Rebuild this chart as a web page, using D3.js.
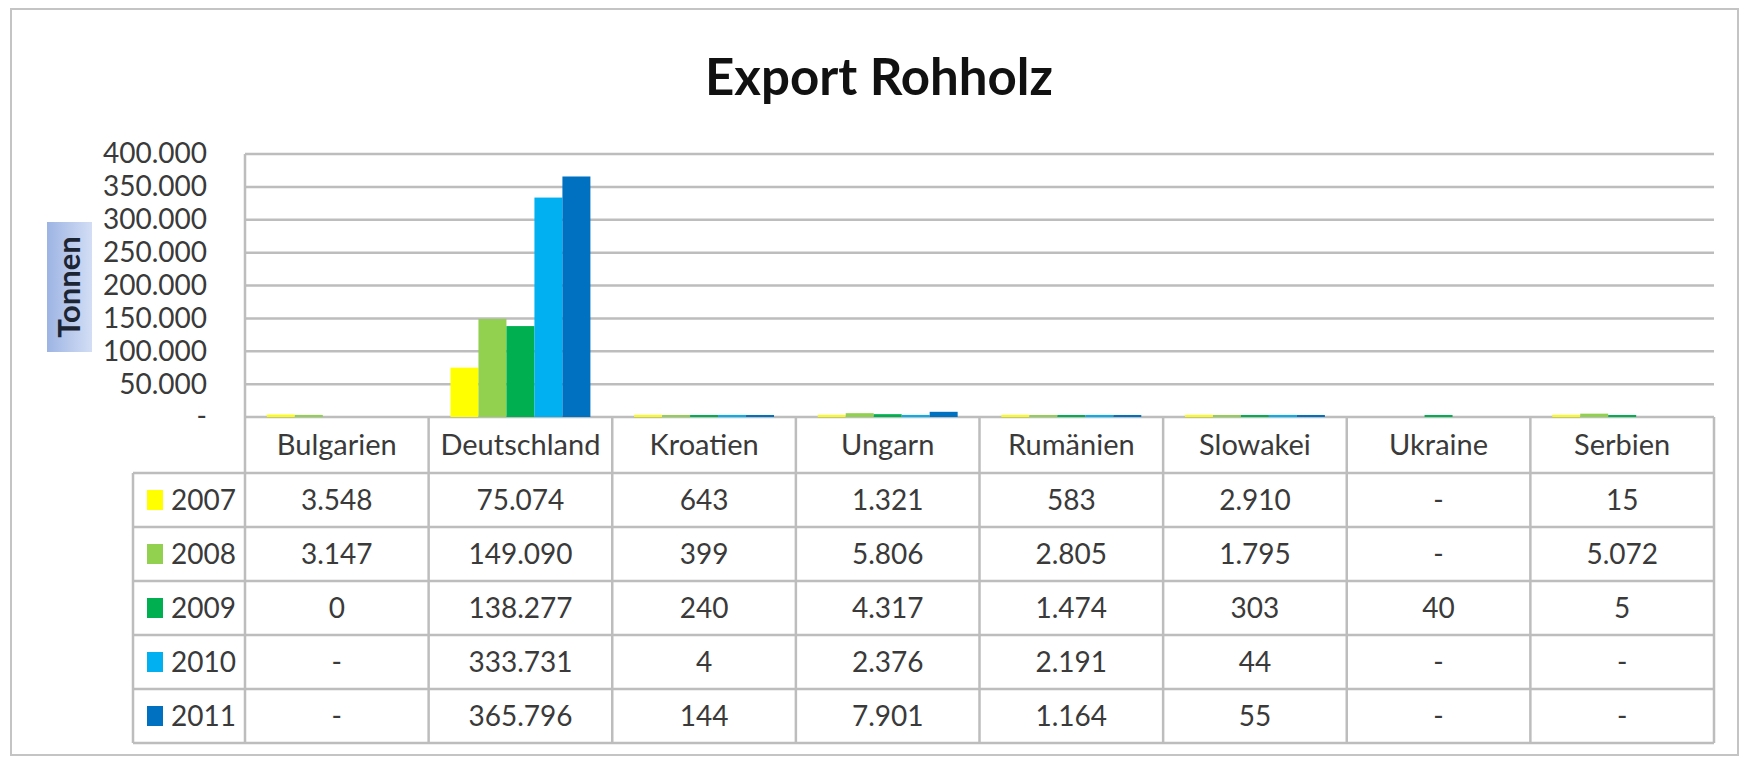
<!DOCTYPE html>
<html>
<head>
<meta charset="utf-8">
<script src="https://cdnjs.cloudflare.com/ajax/libs/d3/7.8.5/d3.min.js"></script>
<style>
  body { margin: 0; background: #fff; }
  text { font-family: Lato, "Open Sans", sans-serif; }
</style>
</head>
<body>
<div id="chart"></div>
<script>
// chart data (Tonnen), null = "-" in the table
const countries = ["Bulgarien", "Deutschland", "Kroatien", "Ungarn", "Rumänien", "Slowakei", "Ukraine", "Serbien"];
const years = ["2007", "2008", "2009", "2010", "2011"];
const values2007 = [3548, 75074, 643, 1321, 583, 2910, null, 15];
const values2008 = [3147, 149090, 399, 5806, 2805, 1795, null, 5072];
const values2009 = [0, 138277, 240, 4317, 1474, 303, 40, 5];
const values2010 = [null, 333731, 4, 2376, 2191, 44, null, null];
const values2011 = [null, 365796, 144, 7901, 1164, 55, null, null];
const yTicks = [0, 50000, 100000, 150000, 200000, 250000, 300000, 350000, 400000];
const colors = ["#ffff00", "#92d050", "#00b050", "#00b0f0", "#0070c0"];

const series = [values2007, values2008, values2009, values2010, values2011];

const width = 1745;
const height = 758;

// plot area and table geometry
const plotLeft = 245, plotRight = 1714, plotTop = 154, plotBottom = 417;
const tableLeft = 133;
const headerH = 56;
const rowH = 54;
const gridColor = "#bdbdbd";
const textColor = "#3a3a3a";
const fontSize = 28;

const de = d3.formatLocale({ decimal: ",", thousands: ".", grouping: [3], currency: ["", " €"] });
const fmt = de.format(",.0f");
const cellText = v => v == null ? "-" : fmt(v);

const svg = d3.select("#chart")
  .append("svg")
  .attr("width", width)
  .attr("height", height);

// outer frame
svg.append("rect")
  .attr("x", 11)
  .attr("y", 9)
  .attr("width", 1727)
  .attr("height", 746)
  .attr("fill", "#fff")
  .attr("stroke", "#c4c4c4")
  .attr("stroke-width", 2);

// title
svg.append("text")
  .attr("x", 879)
  .attr("y", 95)
  .attr("text-anchor", "middle")
  .attr("font-size", 51)
  .attr("font-weight", "bold")
  .attr("fill", "#111")
  .text("Export Rohholz");

// scales
const x0 = d3.scaleBand()
  .domain(countries)
  .range([plotLeft, plotRight])
  .padding(0);

const bw = x0.bandwidth();
const x1 = d3.scaleBand()
  .domain(years)
  .range([bw * 0.119, bw * 0.881])
  .padding(0);

const y = d3.scaleLinear()
  .domain([0, 400000])
  .range([plotBottom, plotTop]);

// gridlines
svg.append("g")
  .selectAll("line")
  .data(yTicks)
  .join("line")
  .attr("x1", plotLeft)
  .attr("x2", plotRight)
  .attr("y1", d => y(d))
  .attr("y2", d => y(d))
  .attr("stroke", gridColor)
  .attr("stroke-width", 2.5);

// y axis labels
const yAxis = d3.axisLeft(y)
  .tickValues(yTicks)
  .tickSize(0)
  .tickPadding(38)
  .tickFormat(d => d === 0 ? "-" : fmt(d));

svg.append("g")
  .attr("transform", `translate(${plotLeft}, 0)`)
  .call(yAxis)
  .call(g => g.select(".domain").remove())
  .call(g => g.selectAll("text")
    .attr("font-family", "Lato, sans-serif")
    .attr("font-size", fontSize)
    .attr("fill", textColor));

// Tonnen label box
const grad = svg.append("defs")
  .append("linearGradient")
  .attr("id", "tonnenGrad")
  .attr("x1", "0%").attr("x2", "100%")
  .attr("y1", "0%").attr("y2", "0%");
grad.append("stop").attr("offset", "0%").attr("stop-color", "#9db4e3");
grad.append("stop").attr("offset", "100%").attr("stop-color", "#d3def5");

svg.append("rect")
  .attr("x", 47)
  .attr("y", 222)
  .attr("width", 45)
  .attr("height", 130)
  .attr("fill", "url(#tonnenGrad)");

svg.append("text")
  .attr("transform", "translate(80, 287) rotate(-90)")
  .attr("text-anchor", "middle")
  .attr("font-size", 31)
  .attr("font-weight", "bold")
  .attr("fill", "#1c2533")
  .text("Tonnen");

// bars
const barData = [];
series.forEach((vals, s) => {
  vals.forEach((v, c) => {
    if (v != null && v > 0) barData.push({ country: countries[c], year: years[s], value: v, color: colors[s] });
  });
});

svg.append("g")
  .selectAll("rect")
  .data(barData)
  .join("rect")
  .attr("x", d => x0(d.country) + x1(d.year))
  .attr("width", x1.bandwidth())
  .attr("y", d => Math.min(y(d.value), plotBottom - 2))
  .attr("height", d => Math.max(plotBottom - y(d.value), 2))
  .attr("fill", d => d.color);

// data table
const tableTop = plotBottom;
const rowTop = i => tableTop + headerH + i * rowH;
const tableBottom = rowTop(years.length);

const table = svg.append("g");

// horizontal lines
table.selectAll("line.h")
  .data(d3.range(years.length + 1))
  .join("line")
  .attr("class", "h")
  .attr("x1", tableLeft)
  .attr("x2", plotRight)
  .attr("y1", i => rowTop(i))
  .attr("y2", i => rowTop(i))
  .attr("stroke", gridColor)
  .attr("stroke-width", 2.5);

// vertical lines
const colEdges = countries.map(c => x0(c)).concat([plotRight]);
table.selectAll("line.v")
  .data(colEdges)
  .join("line")
  .attr("class", "v")
  .attr("x1", d => d)
  .attr("x2", d => d)
  .attr("y1", (d, i) => i === 0 ? plotTop : tableTop)
  .attr("y2", tableBottom)
  .attr("stroke", gridColor)
  .attr("stroke-width", 2.5);

table.append("line")
  .attr("x1", tableLeft)
  .attr("x2", tableLeft)
  .attr("y1", rowTop(0))
  .attr("y2", tableBottom)
  .attr("stroke", gridColor)
  .attr("stroke-width", 2.5);

// column headers
table.selectAll("text.head")
  .data(countries)
  .join("text")
  .attr("class", "head")
  .attr("x", d => x0(d) + bw / 2)
  .attr("y", tableTop + headerH / 2)
  .attr("dy", "0.35em")
  .attr("text-anchor", "middle")
  .attr("font-size", 29)
  .attr("fill", textColor)
  .text(d => d);

// legend keys + year labels
years.forEach((yr, s) => {
  const cy = rowTop(s) + rowH / 2;
  table.append("rect")
    .attr("x", 147)
    .attr("y", cy - 10)
    .attr("width", 16)
    .attr("height", 20)
    .attr("fill", colors[s]);
  table.append("text")
    .attr("x", 171)
    .attr("y", cy)
    .attr("dy", "0.35em")
    .attr("font-size", fontSize)
    .attr("fill", textColor)
    .text(yr);

  // cell values
  table.selectAll(null)
    .data(series[s])
    .join("text")
    .attr("x", (d, c) => x0(countries[c]) + bw / 2)
    .attr("y", cy)
    .attr("dy", "0.35em")
    .attr("text-anchor", "middle")
    .attr("font-size", fontSize)
    .attr("fill", textColor)
    .text(d => cellText(d));
});
</script>
</body>
</html>
